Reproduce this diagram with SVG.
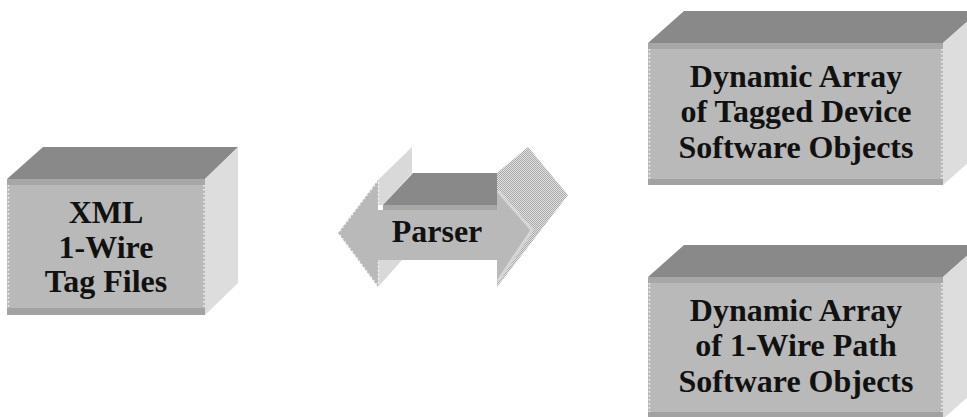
<svg xmlns="http://www.w3.org/2000/svg" width="967" height="417" viewBox="0 0 967 417">
<defs>
<pattern id="chk" width="2" height="2" patternUnits="userSpaceOnUse">
<rect width="2" height="2" fill="#e2e2e2"/>
<rect width="1" height="1" fill="#a8a8a8"/>
<rect x="1" y="1" width="1" height="1" fill="#a8a8a8"/>
</pattern>
</defs>
<style>
.top{fill:#898989}
.band{fill:#a7a7a7}
.front{fill:#b9b9b9}
.bot{fill:#a2a2a2}
.side{fill:#dddddd}
.dot{stroke:#f4f4f4;stroke-width:1.5;stroke-dasharray:1.5 2.5;fill:none}
.lbl{font-family:"Liberation Serif","Times New Roman",serif;font-weight:bold;font-size:32px;fill:#111;text-anchor:middle}
</style>
<rect width="967" height="417" fill="#ffffff"/>

<g id="xml-files">
<polygon class="top" points="7,179 43,147 238,147 205,179"/>
<polygon class="side" points="205,179 238,147 238,283 205,315"/>
<rect class="front" x="7" y="179" width="198" height="136"/>
<rect class="band" x="7" y="179" width="198" height="6"/>
<rect class="bot" x="7" y="308" width="198" height="7"/>
<line class="dot" x1="8.5" y1="185" x2="8.5" y2="308"/>
<line class="dot" x1="204" y1="185" x2="204" y2="308"/>
<text class="lbl" x="106" y="223">XML</text>
<text class="lbl" x="106" y="258">1-Wire</text>
<text class="lbl" x="106" y="292">Tag Files</text>
</g>

<g id="parser">
<polygon points="497,173 528,147 568,195 497,287" fill="url(#chk)"/>
<polygon fill="#d9d9d9" points="378,180 412,147 412,173 383,205 378,205"/>
<polygon fill="#d9d9d9" points="378,260 402,260 378,287"/>
<polygon class="top" points="383,205 413,173 497,173 497,205"/>
<rect class="band" x="383" y="205" width="114" height="5"/>
<polygon class="front" points="338,233 378,180 378,210 497,210 497,190 533,230 497,282 497,260 378,260 378,287"/>
<polyline points="498,191 532,230 498,281" fill="none" stroke="#d6d6d6" stroke-width="3"/>
<line class="dot" x1="378.5" y1="182" x2="378.5" y2="207"/>
<line class="dot" x1="378.5" y1="262" x2="378.5" y2="285"/>
<line class="dot" x1="340" y1="231" x2="377" y2="182"/>
<line class="dot" x1="340" y1="235" x2="377" y2="285"/>
<text class="lbl" x="437" y="242">Parser</text>
</g>

<g id="tagged-devices">
<polygon class="top" points="648,43 684,11 979,11 943,43"/>
<polygon class="side" points="943,43 979,11 979,153 943,185"/>
<rect class="front" x="648" y="43" width="295" height="142"/>
<rect class="band" x="648" y="43" width="295" height="6"/>
<rect class="bot" x="648" y="179" width="295" height="6"/>
<line class="dot" x1="649.5" y1="49" x2="649.5" y2="179"/>
<line class="dot" x1="942" y1="49" x2="942" y2="179"/>
<text class="lbl" x="796" y="87">Dynamic Array</text>
<text class="lbl" x="796" y="122">of Tagged Device</text>
<text class="lbl" x="796" y="158">Software Objects</text>
</g>

<g id="path-objects">
<polygon class="top" points="648,277 684,245 979,245 943,277"/>
<polygon class="side" points="943,277 979,245 979,387 943,419"/>
<rect class="front" x="648" y="277" width="295" height="142"/>
<rect class="band" x="648" y="277" width="295" height="6"/>
<rect class="bot" x="648" y="412" width="295" height="7"/>
<line class="dot" x1="649.5" y1="283" x2="649.5" y2="412"/>
<line class="dot" x1="942" y1="283" x2="942" y2="412"/>
<text class="lbl" x="796" y="321">Dynamic Array</text>
<text class="lbl" x="796" y="356">of 1-Wire Path</text>
<text class="lbl" x="796" y="392">Software Objects</text>
</g>

<g id="connectors"></g>
</svg>
